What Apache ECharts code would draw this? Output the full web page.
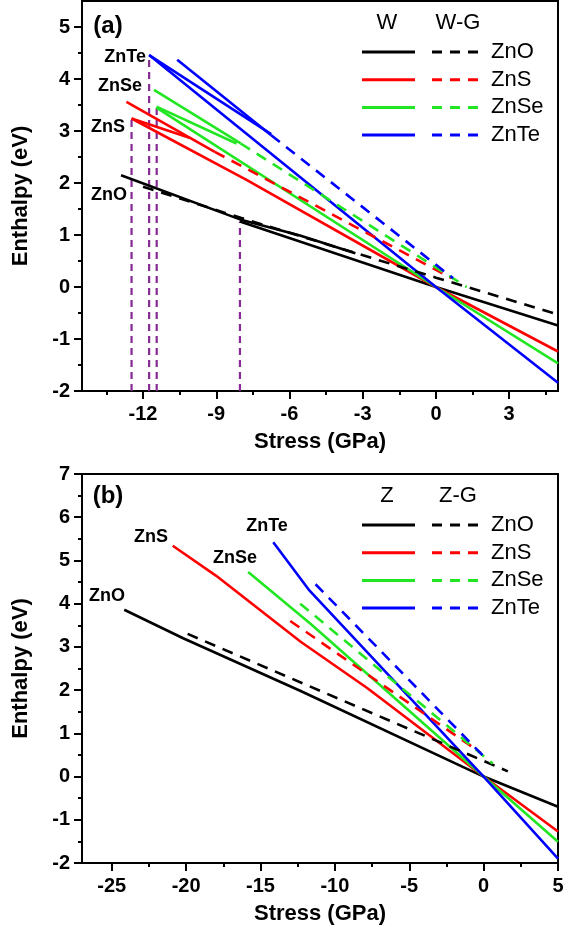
<!DOCTYPE html>
<html><head><meta charset="utf-8">
<script src="https://cdn.jsdelivr.net/npm/echarts@6/dist/echarts.min.js"></script>
<style>html,body{margin:0;padding:0;background:#fff}#c{width:570px;height:930px}</style>
</head><body><div id="c"></div>
<script>
// ---------- categories / styling keys ----------
const compounds = ['ZnO', 'ZnS', 'ZnSe', 'ZnTe'];
const colors = ['#000000', '#ff0000', '#22e622', '#0000ff'];

// ---------- panel (a): wurtzite (W) solid, W-G dashed ----------
const aZnO_W1 = [[-12.9, 2.15], [-8.03, 1.30], [-5.57, 0.99], [-3.3, 0.65]];
const aZnO_W2 = [[-8.03, 1.26], [0, 0], [5, -0.74]];
const aZnO_WG = [[-12.0, 1.93], [-8, 1.33], [0, 0.18], [5, -0.53]];

const aZnS_W1 = [[-12.68, 3.56], [-9.06, 2.60]];
const aZnS_W2 = [[-12.47, 3.24], [-10.1, 2.87]];
const aZnS_W3 = [[-12.47, 3.24], [-7.76, 2.06], [0, 0], [5, -1.24]];
const aZnS_WG = [[-9.06, 2.60], [0.64, 0.17]];

const aZnSe_W1 = [[-11.55, 3.79], [-8.0, 2.76]];
const aZnSe_W2 = [[-11.45, 3.47], [-8.17, 2.76]];
const aZnSe_W3 = [[-11.45, 3.45], [0, 0], [5, -1.47]];
const aZnSe_WG = [[-8.0, 2.76], [1.26, 0.0]];

const aZnTe_W1 = [[-11.75, 4.46], [-6.75, 2.94]];
const aZnTe_W2 = [[-10.6, 4.37], [-6.75, 2.92]];
const aZnTe_W3 = [[-11.75, 4.46], [0, 0], [5, -1.84]];
const aZnTe_WG = [[-6.75, 2.92], [0.7, 0.17]];

// transition pressures (purple dashed drops)
const aTransX = [-12.47, -11.75, -11.44, -8.03];
const aTransY = [3.24, 4.46, 3.47, 1.26];

// ---------- panel (b): zinc blende (Z) solid, Z-G dashed ----------
const bZnO_Z = [[-24.16, 3.86], [-20.2, 3.20], [-12.3, 1.98], [0, 0], [5, -0.70]];
const bZnO_ZG = [[-19.9, 3.30], [1.63, 0.12]];
const bZnS_Z = [[-20.9, 5.34], [-18.0, 4.65], [-12.3, 3.12], [-7.83, 2.05], [0, 0], [5, -1.27]];
const bZnS_ZG = [[-13.0, 3.60], [-0.2, 0.55]];
const bZnSe_Z = [[-15.83, 4.73], [-11.66, 3.54], [0, 0], [5, -1.51]];
const bZnSe_ZG = [[-12.33, 4.00], [0.61, 0.30]];
const bZnTe_Z = [[-14.14, 5.42], [-11.7, 4.30], [0, 0], [5, -1.90]];
const bZnTe_ZG = [[-11.3, 4.45], [-0.06, 0.49]];

// ---------- axis ticks ----------
const aXTicks = [-12, -9, -6, -3, 0, 3];
const aXMinor = [-13.5, -10.5, -7.5, -4.5, -1.5, 1.5, 4.5];
const aYTicks = [-2, -1, 0, 1, 2, 3, 4, 5];
const aYMinor = [-1.5, -0.5, 0.5, 1.5, 2.5, 3.5, 4.5];
const bXTicks = [-25, -20, -15, -10, -5, 0, 5];
const bXMinor = [-22.5, -17.5, -12.5, -7.5, -2.5, 2.5];
const bYTicks = [-2, -1, 0, 1, 2, 3, 4, 5, 6, 7];
const bYMinor = [-1.5, -0.5, 0.5, 1.5, 2.5, 3.5, 4.5, 5.5, 6.5];
const aXRange = [-14.5, 5], aYRange = [-2, 5.5];
const bXRange = [-27, 5], bYRange = [-2, 7];

// ---------- build ----------
const FONT = '"Liberation Sans", Arial, Helvetica, sans-serif';
const DASH = [11, 8];
const purple = '#862a96';

function majorX(gi, range, ticks, name) {
  return {
    gridIndex: gi, type: 'value', min: range[0], max: range[1],
    axisLine: {show: true, onZero: false, lineStyle: {color: '#000', width: 2}},
    axisTick: {show: true, customValues: ticks, length: 8, lineStyle: {color: '#000', width: 2}},
    axisLabel: {show: true, customValues: ticks, margin: 13, color: '#000',
      fontFamily: FONT, fontWeight: 'bold', fontSize: 20},
    splitLine: {show: false},
    name: name, nameLocation: 'middle', nameGap: 40,
    nameTextStyle: {fontFamily: FONT, fontWeight: 'bold', fontSize: 22, color: '#000'}
  };
}
function minorX(gi, range, ticks) {
  return {
    gridIndex: gi, type: 'value', min: range[0], max: range[1], position: 'bottom', offset: 0,
    axisLine: {show: false, onZero: false},
    axisTick: {show: true, customValues: ticks, length: 4, lineStyle: {color: '#000', width: 2}},
    axisLabel: {show: false}, splitLine: {show: false}
  };
}
function majorY(gi, range, ticks, name) {
  return {
    gridIndex: gi, type: 'value', min: range[0], max: range[1], position: 'left', offset: 0,
    axisLine: {show: true, onZero: false, lineStyle: {color: '#000', width: 2}},
    axisTick: {show: true, customValues: ticks, length: 8, lineStyle: {color: '#000', width: 2}},
    axisLabel: {show: true, customValues: ticks, margin: 12, color: '#000',
      fontFamily: FONT, fontWeight: 'bold', fontSize: 20},
    splitLine: {show: false},
    name: name, nameLocation: 'middle', nameGap: 50, nameRotate: 90,
    nameTextStyle: {fontFamily: FONT, fontWeight: 'bold', fontSize: 22, color: '#000'}
  };
}
function minorY(gi, range, ticks) {
  return {
    gridIndex: gi, type: 'value', min: range[0], max: range[1], position: 'left', offset: 0,
    axisLine: {show: false, onZero: false},
    axisTick: {show: true, customValues: ticks, length: 4, lineStyle: {color: '#000', width: 2}},
    axisLabel: {show: false}, splitLine: {show: false}
  };
}

const series = [];
function addLine(xi, yi, data, color, dashed, width) {
  series.push({
    type: 'line', xAxisIndex: xi, yAxisIndex: yi, data: data,
    symbol: 'none', showSymbol: false, silent: true, animation: false, clip: true,
    lineStyle: {color: color, width: width || 2.6, type: dashed ? DASH : 'solid', cap: 'butt'}
  });
}
// purple transition markers first (under curves)
aTransX.forEach((x, i) => {
  series.push({
    type: 'line', xAxisIndex: 0, yAxisIndex: 0,
    data: [[x, aYRange[0]], [x, aTransY[i]]],
    symbol: 'none', silent: true, animation: false,
    lineStyle: {color: purple, width: 2.2, type: [7, 5]}
  });
});
// panel (a)
[[aZnO_W1, aZnO_W2], [aZnS_W1, aZnS_W2, aZnS_W3], [aZnSe_W1, aZnSe_W2, aZnSe_W3], [aZnTe_W1, aZnTe_W2, aZnTe_W3]]
  .forEach((segs, i) => segs.forEach(s => addLine(0, 0, s, colors[i], false)));
[aZnO_WG, aZnS_WG, aZnSe_WG, aZnTe_WG].forEach((s, i) => addLine(0, 0, s, colors[i], true));
// panel (b)
[bZnO_Z, bZnS_Z, bZnSe_Z, bZnTe_Z].forEach((s, i) => addLine(2, 2, s, colors[i], false));
[bZnO_ZG, bZnS_ZG, bZnSe_ZG, bZnTe_ZG].forEach((s, i) => addLine(2, 2, s, colors[i], true));

// ---------- annotations (legend, panel tags, compound labels) ----------
const graphic = [];
function txt(t, x, y, size, bold, align) {
  graphic.push({type: 'text', x: x, y: y, silent: true,
    style: {text: t, fill: '#000', font: (bold ? 'bold ' : '') + size + 'px ' + FONT,
      align: align || 'center', verticalAlign: 'middle'}});
}
function seg(x1, y1, x2, y2, color, dashed) {
  graphic.push({type: 'line', silent: true, shape: {x1: x1, y1: y1, x2: x2, y2: y2},
    style: {stroke: color, lineWidth: 3, lineDash: dashed ? [10, 8] : null}});
}
function legend(top, h1, h2) {
  txt(h1, 387, top + 22, 22, false);
  txt(h2, 458, top + 22, 22, false);
  compounds.forEach((c, i) => {
    const y = top + 51 + i * 27.7;
    seg(362, y, 415, y, colors[i], false);
    seg(432, y, 486, y, colors[i], true);
    txt(c, 491, y, 22, false, 'left');
  });
}
legend(1, 'W', 'W-G');
legend(474, 'Z', 'Z-G');
txt('(a)', 108, 26, 24, true);
txt('(b)', 108, 496, 24, true);
// compound labels panel (a)
txt('ZnTe', 146, 57, 18, true, 'right');
txt('ZnSe', 142, 86, 18, true, 'right');
txt('ZnS', 125, 127, 18, true, 'right');
txt('ZnO', 127, 195, 18, true, 'right');
// compound labels panel (b)
txt('ZnO', 107, 596, 18, true);
txt('ZnS', 151, 537, 18, true);
txt('ZnSe', 235, 558, 18, true);
txt('ZnTe', 267, 526, 18, true);

const option = {
  backgroundColor: '#fff',
  animation: false,
  grid: [
    {left: 82, top: 1, width: 476, height: 390, show: true, borderColor: '#000', borderWidth: 2, backgroundColor: 'transparent'},
    {left: 82, top: 474, width: 476, height: 389, show: true, borderColor: '#000', borderWidth: 2, backgroundColor: 'transparent'}
  ],
  xAxis: [
    majorX(0, aXRange, aXTicks, 'Stress (GPa)'), minorX(0, aXRange, aXMinor),
    majorX(1, bXRange, bXTicks, 'Stress (GPa)'), minorX(1, bXRange, bXMinor)
  ],
  yAxis: [
    majorY(0, aYRange, aYTicks, 'Enthalpy (eV)'), minorY(0, aYRange, aYMinor),
    majorY(1, bYRange, bYTicks, 'Enthalpy (eV)'), minorY(1, bYRange, bYMinor)
  ],
  series: series,
  graphic: graphic
};
const chart = echarts.init(document.getElementById('c'), null, {renderer: 'canvas'});
chart.setOption(option);
</script></body></html>
